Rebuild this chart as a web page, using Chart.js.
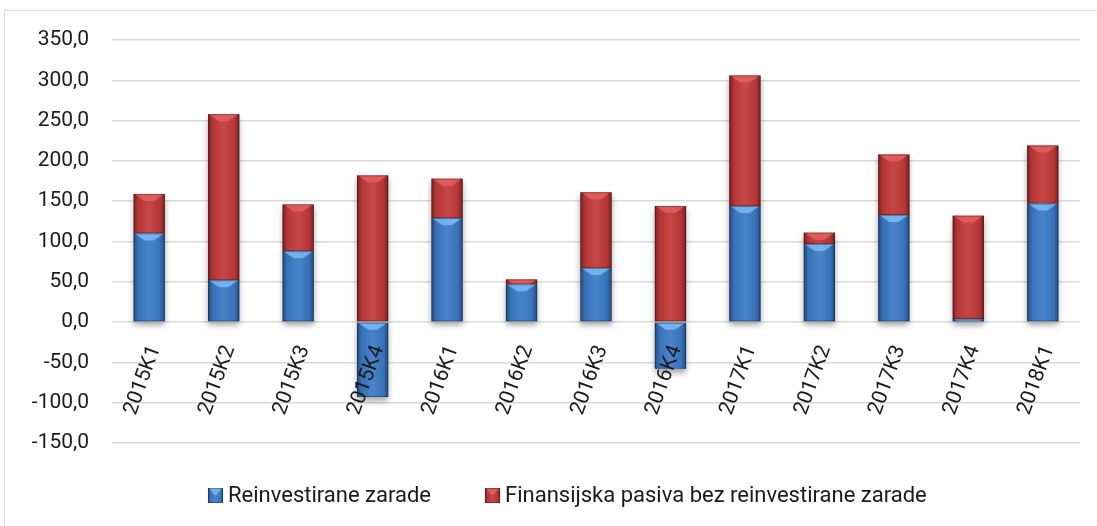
<!DOCTYPE html>
<html><head><meta charset="utf-8">
<script src="https://cdn.jsdelivr.net/npm/chart.js@4"></script>
<style>html,body{margin:0;padding:0;background:#fff}#wrap{width:1097px;height:526px;position:relative}</style>
</head><body><div id="wrap"><canvas id="c" width="1097" height="526"></canvas></div>
<script>
const categories = ['2015K1','2015K2','2015K3','2015K4','2016K1','2016K2','2016K3','2016K4','2017K1','2017K2','2017K3','2017K4','2018K1'];
const reinvestedEarnings = [110, 52, 88, -93, 129, 47, 67, -58, 144, 97, 133, 4, 147];
const otherLiabilities = [49, 206, 58, 182, 49, 6, 94, 144, 162, 14, 75, 128, 72];
const seriesNames = ['Reinvestirane zarade', 'Finansijska pasiva bez reinvestirane zarade'];
const yTicks = [-150, -100, -50, 0, 50, 100, 150, 200, 250, 300, 350];

const FONT = 'Roboto';
const baseColors = ['#3c7ac6', '#c23a3a'];
const lightColors = ['#78b6f3', '#e45d5d'];

const frame = {
  id: 'frame',
  beforeDraw(chart) {
    const ctx = chart.ctx;
    ctx.save();
    ctx.fillStyle = '#fff';
    ctx.fillRect(0, 0, chart.width, chart.height);
    ctx.strokeStyle = '#d9d9d9';
    ctx.lineWidth = 1;
    ctx.strokeRect(4.5, 10.5, chart.width + 10, chart.height + 20);
    ctx.restore();
  }
};

function paintBlock(ctx, l, t, w, h, di) {
  const r = l + w;
  const g = ctx.createLinearGradient(l, 0, r, 0);
  g.addColorStop(0, 'rgba(0,0,0,0.38)');
  g.addColorStop(0.16, 'rgba(0,0,0,0.06)');
  g.addColorStop(0.5, 'rgba(255,255,255,0.07)');
  g.addColorStop(0.84, 'rgba(0,0,0,0.06)');
  g.addColorStop(1, 'rgba(0,0,0,0.38)');
  ctx.fillStyle = g;
  ctx.fillRect(l, t, w, h);
  const d = Math.min(7, h);
  const ins = Math.min(10, w / 2 - 2) * d / 7;
  ctx.beginPath();
  ctx.moveTo(l + 1, t);
  ctx.lineTo(r - 1, t);
  ctx.lineTo(r - 1 - ins, t + d);
  ctx.lineTo(l + 1 + ins, t + d);
  ctx.closePath();
  ctx.fillStyle = lightColors[di];
  ctx.globalAlpha = 0.9;
  ctx.fill();
  ctx.globalAlpha = 1;
  ctx.strokeStyle = 'rgba(0,0,0,0.3)';
  ctx.lineWidth = 1;
  ctx.strokeRect(l + 0.5, t + 0.5, w - 1, Math.max(h - 1, 0));
}

const bevel = {
  id: 'bevel',
  beforeDatasetsDraw(chart) {
    const ctx = chart.ctx;
    ctx.save();
    chart.data.datasets.forEach((ds, di) => {
      const meta = chart.getDatasetMeta(di);
      meta.data.forEach(el => {
        const p = el.getProps(['x', 'y', 'base', 'width'], true);
        const t = Math.min(p.y, p.base), b = Math.max(p.y, p.base);
        if (b - t < 0.5) return;
        ctx.shadowColor = 'rgba(0,0,0,0.35)';
        ctx.shadowBlur = 6;
        ctx.shadowOffsetY = 4;
        ctx.fillStyle = '#fff';
        ctx.fillRect(p.x - p.width / 2, t, p.width, b - t);
      });
    });
    ctx.restore();
  },
  afterDatasetsDraw(chart) {
    const ctx = chart.ctx;
    ctx.save();
    chart.data.datasets.forEach((ds, di) => {
      const meta = chart.getDatasetMeta(di);
      meta.data.forEach(el => {
        const p = el.getProps(['x', 'y', 'base', 'width'], true);
        const t = Math.min(p.y, p.base), b = Math.max(p.y, p.base);
        if (b - t < 0.5) return;
        paintBlock(ctx, p.x - p.width / 2, t, p.width, b - t, di);
      });
    });
    ctx.restore();
  }
};

const legendPlugin = {
  id: 'customLegend',
  afterDraw(chart) {
    const ctx = chart.ctx;
    ctx.save();
    ctx.font = '22px ' + FONT;
    ctx.textBaseline = 'middle';
    ctx.textAlign = 'left';
    let x = 208;
    const boxY = 488, box = 15, cy = 496;
    chart.data.datasets.forEach((ds, di) => {
      ctx.fillStyle = ds.backgroundColor;
      ctx.fillRect(x, boxY, box, box);
      paintBlock(ctx, x, boxY, box, box, di);
      ctx.fillStyle = '#1a1a1a';
      ctx.fillText(ds.label, x + box + 5, cy);
      x += box + 5 + ctx.measureText(ds.label).width + 54;
    });
    ctx.restore();
  }
};

new Chart(document.getElementById('c'), {
  type: 'bar',
  data: {
    labels: categories,
    datasets: [
      { label: seriesNames[0], data: reinvestedEarnings, backgroundColor: baseColors[0], stack: 's' },
      { label: seriesNames[1], data: otherLiabilities, backgroundColor: baseColors[1], stack: 's' }
    ]
  },
  options: {
    responsive: false,
    animation: false,
    devicePixelRatio: 1,
    layout: { padding: { top: 40, right: 17, bottom: 83, left: 0 } },
    plugins: { legend: { display: false }, tooltip: { enabled: false } },
    datasets: { bar: { categoryPercentage: 1, barPercentage: 0.42 } },
    scales: {
      x: {
        stacked: true,
        position: { y: 0 },
        grid: { display: false, drawTicks: false },
        border: { display: false },
        ticks: {
          z: 1,
          autoSkip: false, minRotation: 70, maxRotation: 70, padding: 20, labelOffset: 6,
          color: '#1a1a1a', font: { family: FONT, size: 21 }
        }
      },
      y: {
        stacked: true,
        min: yTicks[0],
        max: yTicks[yTicks.length - 1],
        afterBuildTicks: s => { s.ticks = yTicks.map(v => ({ value: v })); },
        afterFit: s => { s.width = 112; },
        grid: { color: '#d9d9d9', lineWidth: 1.5, drawTicks: false },
        border: { display: false },
        ticks: {
          padding: 23, color: '#1a1a1a', font: { family: FONT, size: 21 },
          callback: v => Number(v).toFixed(1).replace('.', ',')
        }
      }
    }
  },
  plugins: [frame, bevel, legendPlugin]
});
</script>
</body></html>
